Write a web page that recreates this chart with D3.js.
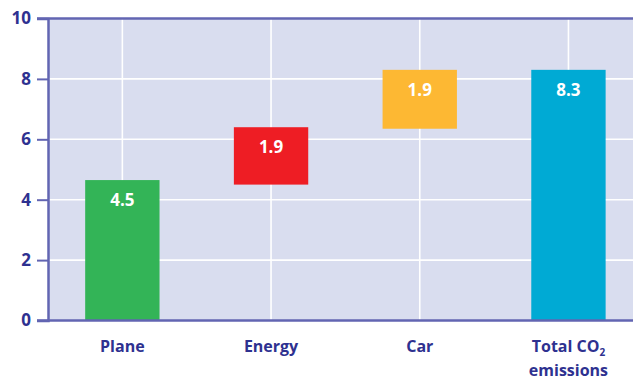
<!DOCTYPE html>
<html>
<head>
<meta charset="utf-8">
<script src="https://cdn.jsdelivr.net/npm/d3@7"></script>
<style>
  body { margin: 0; background: #fff; }
  svg { display: block; font-family: "Open Sans", sans-serif; }
</style>
</head>
<body>
<div id="chart"></div>
<script>
var categories = ['Plane', 'Energy', 'Car', 'Total'];
var barStart = [0, 4.5, 6.35, 0];
var barEnd = [4.65, 6.4, 8.3, 8.3];
var valueLabels = ['4.5', '1.9', '1.9', '8.3'];
var colors = ['#33b457', '#ee1d24', '#fdb833', '#00aad4'];
var yTicks = [0, 2, 4, 6, 8, 10];

var W = 633, H = 381;
var margin = { top: 18.5, left: 48, bottom: 60.5 },
    plotBottom = H - margin.bottom;

var ink = '#2e3190', axisCol = '#6265b2';

var svg = d3.select('#chart').append('svg')
    .attr('width', W)
    .attr('height', H);

var x = d3.scaleBand()
    .domain(categories)
    .range([margin.left, margin.left + 4 * 148.7])
    .paddingInner(0.5)
    .paddingOuter(0.25);

var y = d3.scaleLinear()
    .domain([0, 10])
    .range([plotBottom, margin.top]);

// plot background
svg.append('rect')
    .attr('x', margin.left)
    .attr('y', margin.top)
    .attr('width', W - margin.left)
    .attr('height', plotBottom - margin.top)
    .attr('fill', '#d9ddef');

// horizontal grid
svg.selectAll('.hgrid')
    .data(yTicks.slice(1, -1))
  .enter().append('line')
    .attr('x1', margin.left).attr('x2', W)
    .attr('y1', function(d) { return y(d); })
    .attr('y2', function(d) { return y(d); })
    .attr('stroke', '#fff')
    .attr('stroke-width', 1.6);

// vertical grid at category centres
svg.selectAll('.vgrid')
    .data(categories)
  .enter().append('line')
    .attr('x1', function(d) { return x(d) + x.bandwidth() / 2; })
    .attr('x2', function(d) { return x(d) + x.bandwidth() / 2; })
    .attr('y1', margin.top).attr('y2', plotBottom)
    .attr('stroke', '#fff')
    .attr('stroke-width', 1.6);

// bars
svg.selectAll('.bar')
    .data(categories)
  .enter().append('rect')
    .attr('x', function(d) { return x(d); })
    .attr('width', x.bandwidth())
    .attr('y', function(d, i) { return y(barEnd[i]); })
    .attr('height', function(d, i) { return y(barStart[i]) - y(barEnd[i]); })
    .attr('fill', function(d, i) { return colors[i]; });

// value labels
svg.selectAll('.val')
    .data(categories)
  .enter().append('text')
    .attr('x', function(d) { return x(d) + x.bandwidth() / 2; })
    .attr('y', function(d, i) { return y(barEnd[i]) + 26; })
    .attr('text-anchor', 'middle')
    .attr('fill', '#fff')
    .attr('font-size', 17)
    .attr('font-weight', 700)
    .text(function(d, i) { return valueLabels[i]; });

// y axis
var yAxis = svg.append('g')
    .attr('transform', 'translate(' + margin.left + ',0)')
    .call(d3.axisLeft(y).tickValues(yTicks).tickSize(11).tickPadding(6));
yAxis.select('.domain').attr('stroke', axisCol).attr('stroke-width', 2.5);
yAxis.selectAll('.tick line').attr('stroke', axisCol).attr('stroke-width', 2);
yAxis.selectAll('.tick text')
    .attr('fill', ink)
    .attr('font-size', 17)
    .attr('font-weight', 700)
    .attr('font-family', '"Open Sans", sans-serif');

// top and bottom borders
[0, 10].forEach(function(v) {
  svg.append('line')
      .attr('x1', margin.left - 11).attr('x2', W)
      .attr('y1', y(v)).attr('y2', y(v))
      .attr('stroke', axisCol)
      .attr('stroke-width', 2.5);
});

// category labels
var catText = svg.selectAll('.cat')
    .data(categories)
  .enter().append('text')
    .attr('x', function(d) { return x(d) + x.bandwidth() / 2; })
    .attr('y', 352)
    .attr('text-anchor', 'middle')
    .attr('fill', ink)
    .attr('font-size', 16)
    .attr('font-weight', 700);

catText.filter(function(d) { return d !== 'Total'; })
    .text(function(d) { return d; });

var total = catText.filter(function(d) { return d === 'Total'; });
total.append('tspan').text('Total CO');
total.append('tspan').text('2').attr('font-size', 10).attr('dy', 4);
total.append('tspan')
    .attr('x', x('Total') + x.bandwidth() / 2)
    .attr('dy', 20)
    .text('emissions');
</script>
</body>
</html>
